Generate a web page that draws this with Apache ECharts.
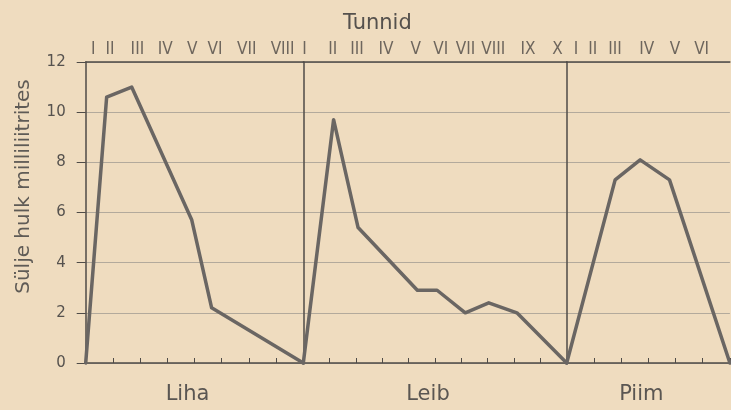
<!DOCTYPE html>
<html>
<head>
<meta charset="utf-8">
<script src="https://cdn.jsdelivr.net/npm/echarts@6/dist/echarts.min.js"></script>
<style>
  html, body { margin: 0; padding: 0; background: #efdcbf; }
  #chart { width: 731px; height: 410px; }
</style>
</head>
<body>
<div id="chart"></div>
<script>
// Panel names (food types)
const panels = ['Liha', 'Leib', 'Piim'];
// Length of each panel in hours
const panelHours = [8, 10, 6];

// Saliva amount (ml) at measured times (hours from start) for each food
const lihaHours = [0, 0.77, 1.69, 3.9, 4.63, 8];
const lihaValues = [0, 10.6, 11.0, 5.7, 2.2, 0];

const leibHours = [0, 1.15, 2.08, 4.33, 5.08, 6.15, 7.04, 8.11, 10];
const leibValues = [0, 9.7, 5.4, 2.9, 2.9, 2.0, 2.4, 2.0, 0];

const piimHours = [0, 1.78, 2.7, 3.78, 6];
const piimValues = [0, 7.3, 8.1, 7.3, 0];

// Hour labels written along the top edge, with their positions (hours)
const lihaTickLabels = ['I', 'II', 'III', 'IV', 'V', 'VI', 'VII', 'VIII'];
const lihaTickPos = [0.28, 0.89, 1.9, 2.92, 3.92, 4.75, 5.92, 7.24];
const leibTickLabels = ['I', 'II', 'III', 'IV', 'V', 'VI', 'VII', 'VIII', 'IX', 'X'];
const leibTickPos = [0.05, 1.12, 2.04, 3.14, 4.27, 5.22, 6.16, 7.21, 8.53, 9.65];
const piimTickLabels = ['I', 'II', 'III', 'IV', 'V', 'VI'];
const piimTickPos = [0.34, 0.96, 1.78, 2.94, 3.98, 4.96];

// Y axis ticks
const yMin = 0, yMax = 12, yStep = 2;

const seriesHours = [lihaHours, leibHours, piimHours];
const seriesValues = [lihaValues, leibValues, piimValues];
const topLabels = [lihaTickLabels, leibTickLabels, piimTickLabels];
const topPos = [lihaTickPos, leibTickPos, piimTickPos];

const ink = '#4f4b47';
const lineInk = '#6a6663';
const gridInk = '#b3aa9c';
const narrow = "'Liberation Sans Narrow', 'DejaVu Sans Condensed', 'DejaVu Sans', sans-serif";
const face = "'DejaVu Sans', sans-serif";

const gridBoxes = [
  { left: 85.7, top: 62, width: 217.6, height: 309 },
  { left: 303.3, top: 62, width: 263.4, height: 309 },
  { left: 566.7, top: 62, width: 163.2, height: 309 }
];

const xAxes = [];
const yAxes = [];
const series = [];

panels.forEach((name, i) => {
  // bottom hour axis with small inward ticks and the food name
  xAxes.push({
    type: 'value', gridIndex: i, position: 'bottom',
    min: 0, max: panelHours[i], interval: 1,
    axisLine: { show: true, lineStyle: { color: ink, width: 1.5 } },
    axisTick: { show: true, inside: true, length: 5, lineStyle: { color: ink, width: 1 } },
    axisLabel: { show: false },
    splitLine: { show: false },
    name: name, nameLocation: 'middle', nameGap: 21,
    nameTextStyle: { color: '#5a5652', fontSize: 21, fontFamily: face, padding: [0, 14, 0, 0] }
  });
  // top border line
  xAxes.push({
    type: 'value', gridIndex: i, position: 'top',
    min: 0, max: panelHours[i],
    axisLine: { show: true, onZero: false, lineStyle: { color: ink, width: 1.5 } },
    axisTick: { show: false }, axisLabel: { show: false }, splitLine: { show: false }
  });
  yAxes.push({
    type: 'value', gridIndex: i,
    min: yMin, max: yMax, interval: yStep,
    axisLine: { show: true, lineStyle: { color: ink, width: 1.5 } },
    axisTick: { show: i === 0, length: 9, lineStyle: { color: ink, width: 1 } },
    axisLabel: { show: i === 0, margin: 20, color: '#56524e', fontSize: 15, fontFamily: face },
    splitLine: { show: true, lineStyle: { color: gridInk, width: 1.2 } },
    name: i === 0 ? 'Sülje hulk milliliitrites' : '',
    nameLocation: 'middle', nameGap: 52, nameRotate: 90,
    nameTextStyle: { color: '#5f5b56', fontSize: 20, fontFamily: face, padding: [0, 0, 0, 52] }
  });

  series.push({
    type: 'line', xAxisIndex: i * 2, yAxisIndex: i,
    data: seriesHours[i].map((h, k) => [h, seriesValues[i][k]]),
    symbol: 'none', silent: true, clip: false,
    lineStyle: { color: lineInk, width: 3.5, join: 'round', cap: 'round' },
    z: 5
  });

  series.push({
    type: 'scatter', xAxisIndex: i * 2, yAxisIndex: i,
    data: topPos[i].map((p, k) => [p, yMax, topLabels[i][k]]),
    symbolSize: 0, silent: true, clip: false,
    label: {
      show: true, position: 'top', distance: 4,
      formatter: (d) => d.value[2],
      color: '#4d4945', fontSize: 17, fontFamily: narrow
    }
  });
});

const chart = echarts.init(document.getElementById('chart'), null, { renderer: 'canvas' });
chart.setOption({
  backgroundColor: '#efdcbf',
  animation: false,
  title: {
    text: 'Tunnid', left: 338, top: 8,
    textStyle: { color: '#55514d', fontSize: 21, fontWeight: 'normal', fontFamily: face }
  },
  grid: gridBoxes,
  xAxis: xAxes,
  yAxis: yAxes,
  series: series
});
</script>
</body>
</html>
